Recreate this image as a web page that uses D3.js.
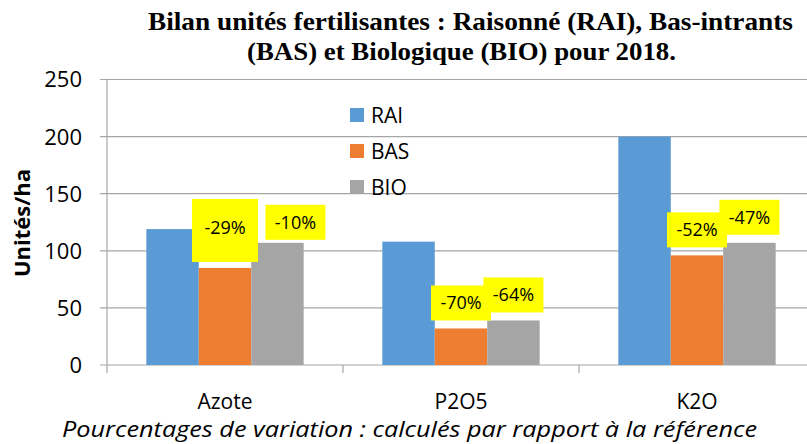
<!DOCTYPE html>
<html>
<head>
<meta charset="utf-8">
<script src="https://cdn.jsdelivr.net/npm/d3@7"></script>
<style>
  body { margin: 0; background: #fff; }
  svg { display: block; }
</style>
</head>
<body>
<div id="vis"></div>
<script>
// Frame
const FRAME_WIDTH = 807;
const FRAME_HEIGHT = 444;
const MARGINS = {left: 107, right: -8, top: 79.5, bottom: 79};

const VIS_WIDTH = FRAME_WIDTH - MARGINS.left - MARGINS.right;
const VIS_HEIGHT = FRAME_HEIGHT - MARGINS.top - MARGINS.bottom;

// Data
const categories = ["Azote", "P2O5", "K2O"];
const series = ["RAI", "BAS", "BIO"];
const rai = [119, 108, 200];
const bas = [85, 32, 96];
const bio = [107, 39, 107];
const basLabels = ["-29%", "-70%", "-52%"];
const bioLabels = ["-10%", "-64%", "-47%"];
const yTicks = [0, 50, 100, 150, 200, 250];

const COLORS = {RAI: "#5B9BD5", BAS: "#ED7D31", BIO: "#A5A5A5"};
const FONT = "'Open Sans', sans-serif";

const FRAME = d3.select("#vis")
                .append("svg")
                  .attr("width", FRAME_WIDTH)
                  .attr("height", FRAME_HEIGHT);

const X_SCALE = d3.scaleBand()
                  .domain(categories)
                  .range([0, VIS_WIDTH])
                  .paddingInner(0)
                  .paddingOuter(0);

// gap width of 150% between groups (Excel-like)
const SUB_SCALE = d3.scaleBand()
                    .domain(series)
                    .range([0, X_SCALE.bandwidth()])
                    .paddingOuter(0.75)
                    .paddingInner(0);

const Y_SCALE = d3.scaleLinear()
                  .domain([0, 250])
                  .range([VIS_HEIGHT, 0]);

const plot = FRAME.append("g")
                  .attr("transform", "translate(" + MARGINS.left + "," + MARGINS.top + ")");

// gridlines
plot.selectAll(".grid")
    .data(yTicks)
    .enter()
    .append("line")
      .attr("x1", -7)
      .attr("x2", VIS_WIDTH)
      .attr("y1", d => Y_SCALE(d))
      .attr("y2", d => Y_SCALE(d))
      .attr("stroke", "#a6a6a6")
      .attr("stroke-width", 1.2);

// y axis line
plot.append("line")
    .attr("x1", 0).attr("x2", 0)
    .attr("y1", 0).attr("y2", VIS_HEIGHT + 8)
    .attr("stroke", "#a6a6a6")
    .attr("stroke-width", 1.2);

// category tick marks
plot.selectAll(".xtick")
    .data(categories.slice(1))
    .enter()
    .append("line")
      .attr("x1", d => X_SCALE(d))
      .attr("x2", d => X_SCALE(d))
      .attr("y1", VIS_HEIGHT)
      .attr("y2", VIS_HEIGHT + 8)
      .attr("stroke", "#a6a6a6")
      .attr("stroke-width", 1.2);

// y tick labels
plot.selectAll(".ylab")
    .data(yTicks)
    .enter()
    .append("text")
      .attr("x", -25)
      .attr("y", d => Y_SCALE(d))
      .attr("dy", "0.36em")
      .attr("text-anchor", "end")
      .attr("font-family", FONT)
      .attr("font-size", "22px")
      .attr("fill", "#000")
      .text(d => d);

// bars
const rows = categories.map((c, i) => ({cat: c, RAI: rai[i], BAS: bas[i], BIO: bio[i]}));

const groups = plot.selectAll(".group")
    .data(rows)
    .enter()
    .append("g")
      .attr("transform", d => "translate(" + X_SCALE(d.cat) + ",0)");

groups.selectAll("rect")
    .data(d => series.map(s => ({s: s, v: d[s]})))
    .enter()
    .append("rect")
      .attr("x", d => SUB_SCALE(d.s))
      .attr("y", d => Y_SCALE(d.v))
      .attr("width", SUB_SCALE.bandwidth())
      .attr("height", d => VIS_HEIGHT - Y_SCALE(d.v))
      .attr("fill", d => COLORS[d.s]);

// percentage labels (yellow boxes above BAS and BIO bars)
const labels = [];
categories.forEach((c, i) => {
  labels.push({cat: c, s: "BAS", v: bas[i], t: basLabels[i]});
  labels.push({cat: c, s: "BIO", v: bio[i], t: bioLabels[i]});
});

const LAB_W = 60, LAB_H = 35, LAB_GAP = 8;

const lab = plot.selectAll(".lab")
    .data(labels)
    .enter()
    .append("g")
      .attr("transform", d => {
        let cx = X_SCALE(d.cat) + SUB_SCALE(d.s) + SUB_SCALE.bandwidth() / 2;
        let bottom = Y_SCALE(d.v) - LAB_GAP;
        return "translate(" + cx + "," + bottom + ")";
      });

// the first two boxes were moved by hand in the original
lab.append("rect")
    .attr("x", d => d.t === "-29%" ? -33 : (d.t === "-10%" ? -12 : -LAB_W / 2))
    .attr("y", d => d.t === "-29%" ? -61 : (d.t === "-10%" ? -30 : -LAB_H))
    .attr("width", d => d.t === "-29%" ? 66 : LAB_W)
    .attr("height", d => d.t === "-29%" ? 63 : LAB_H)
    .attr("fill", "#FFFF00");

lab.append("text")
    .attr("x", d => d.t === "-10%" ? 18 : 0)
    .attr("y", d => d.t === "-29%" ? -32 : (d.t === "-10%" ? -12 : -LAB_H / 2))
    .attr("dy", "0.36em")
    .attr("text-anchor", "middle")
    .attr("font-family", FONT)
    .attr("font-size", "18px")
    .attr("fill", "#000")
    .text(d => d.t);

// category labels
plot.selectAll(".xlab")
    .data(categories)
    .enter()
    .append("text")
      .attr("x", d => X_SCALE(d) + SUB_SCALE("BAS") + SUB_SCALE.bandwidth() / 2)
      .attr("y", VIS_HEIGHT + 44)
      .attr("text-anchor", "middle")
      .attr("font-family", FONT)
      .attr("font-size", "21px")
      .attr("fill", "#000")
      .text(d => d);

// legend
const legend = FRAME.append("g")
    .attr("transform", "translate(350,108)");

legend.selectAll("rect")
    .data(series)
    .enter()
    .append("rect")
      .attr("x", 0)
      .attr("y", (d, i) => i * 36)
      .attr("width", 14)
      .attr("height", 14)
      .attr("fill", d => COLORS[d]);

legend.selectAll("text")
    .data(series)
    .enter()
    .append("text")
      .attr("x", 21)
      .attr("y", (d, i) => i * 36 + 7)
      .attr("dy", "0.36em")
      .attr("font-family", FONT)
      .attr("font-size", "21px")
      .attr("fill", "#000")
      .text(d => d);

// y axis title
FRAME.append("text")
    .attr("transform", "translate(30,223) rotate(-90)")
    .attr("text-anchor", "middle")
    .attr("font-family", FONT)
    .attr("font-weight", "bold")
    .attr("font-size", "22px")
    .text("Unités/ha");

// title
const title = FRAME.append("text")
    .attr("font-family", "'Liberation Serif', 'Times New Roman', serif")
    .attr("font-weight", "bold")
    .attr("font-size", "26px")
    .attr("fill", "#000");
title.append("tspan").attr("x", 148).attr("y", 30)
     .attr("textLength", 645)
     .attr("lengthAdjust", "spacingAndGlyphs")
     .text("Bilan unités fertilisantes : Raisonné (RAI), Bas-intrants");
title.append("tspan").attr("x", 247).attr("y", 60)
     .attr("textLength", 429)
     .attr("lengthAdjust", "spacingAndGlyphs")
     .text("(BAS) et Biologique (BIO) pour 2018.");

// footnote
FRAME.append("text")
    .attr("x", 62)
    .attr("y", 437)
    .attr("textLength", 695)
    .attr("lengthAdjust", "spacingAndGlyphs")
    .attr("font-family", FONT)
    .attr("font-style", "italic")
    .attr("font-size", "22px")
    .attr("fill", "#000")
    .text("Pourcentages de variation : calculés par rapport à la référence");
</script>
</body>
</html>
